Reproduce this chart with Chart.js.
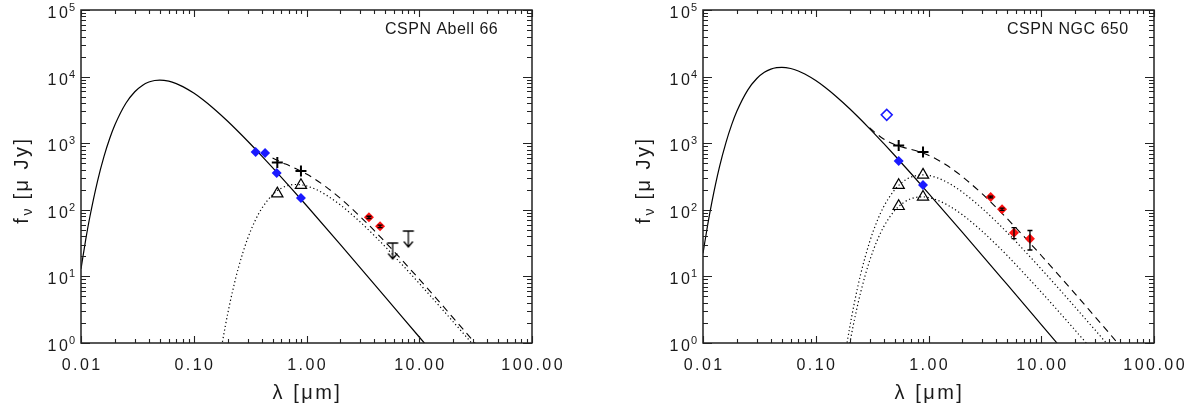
<!DOCTYPE html>
<html><head><meta charset="utf-8">
<script src="https://cdn.jsdelivr.net/npm/chart.js@4/dist/chart.umd.min.js"></script>
<style>
html,body{margin:0;padding:0;background:#fff;overflow:hidden;width:1199px;height:408px}
#wrap{position:relative;width:1199px;height:408px}
canvas{position:absolute;top:0}
#c1{left:0}
#c2{left:600px}
</style></head><body>
<div id="wrap"><canvas id="c1" width="600" height="408"></canvas><canvas id="c2" width="599" height="408"></canvas></div>
<script>
// ---------- axis ticks ----------
const X_TICK_VALUES = [0.01, 0.1, 1, 10, 100];
const X_TICK_LABELS = ['0.01', '0.10', '1.00', '10.00', '100.00'];
const Y_TICK_EXPONENTS = [0, 1, 2, 3, 4, 5];

// ---------- CSPN Abell 66 ----------
const A66_STAR_LAM  = [0.01, 0.011, 0.012, 0.014, 0.016, 0.018, 0.02, 0.025, 0.03, 0.035, 0.04, 0.045, 0.05, 0.06, 0.07, 0.08, 0.1, 0.12, 0.15, 0.2, 0.3, 0.4, 0.5, 0.7, 1, 2, 5, 10, 12];
const A66_STAR_FLUX = [13.0, 35.3, 79.3, 268, 633, 1184, 1890, 3980, 5930, 7377, 8282, 8731, 8860, 8530, 7846, 7075, 5648, 4521, 3323, 2136, 1080, 647, 430, 229, 116, 30.0, 4.90, 1.23, 0.857];
const A66_COOL_LAM  = [0.175, 0.18, 0.19, 0.2, 0.22, 0.25, 0.3, 0.35, 0.4, 0.5, 0.6, 0.7, 0.8, 0.9, 1.0, 1.2, 1.5, 2, 3, 4, 5, 7, 10, 15, 20, 25, 30];
const A66_COOL_FLUX = [0.80, 1.055, 1.75, 2.74, 5.82, 13.8, 36.7, 68.6, 104, 168.5, 211.5, 233.5, 240, 237, 228, 204, 166, 118, 65.4, 40.9, 27.8, 15.2, 7.85, 3.63, 2.08, 1.35, 0.944];
const A66_SUM_LAM   = [0.5, 0.6, 0.7, 0.8, 0.9, 1.0, 1.2, 1.5, 2, 3, 4, 5, 7, 10, 15, 20, 25, 30, 32];
const A66_SUM_FLUX  = [598, 517, 462, 417, 378, 344, 285, 219, 148, 78.9, 48.5, 32.7, 17.7, 9.08, 4.18, 2.39, 1.55, 1.08, 0.95];
const A66_BLUE_LAM  = [0.354, 0.429, 0.544, 0.893];
const A66_BLUE_FLUX = [740, 714, 357, 150];
const A66_PLUS_LAM  = [0.551, 0.893];
const A66_PLUS_FLUX = [513, 383];
const A66_TRI_LAM   = [0.551, 0.893];
const A66_TRI_FLUX  = [175, 234];
const A66_RED_LAM   = [3.58, 4.49];
const A66_RED_FLUX  = [77, 56.5];
const A66_RED_ERR   = [3, 2.5];
const A66_UL_LAM    = [5.81, 8.0];
const A66_UL_FLUX   = [31.7, 48];

// ---------- CSPN NGC 650 ----------
const N650_STAR_LAM  = [0.01, 0.011, 0.012, 0.014, 0.016, 0.018, 0.02, 0.025, 0.03, 0.035, 0.04, 0.045, 0.05, 0.06, 0.07, 0.08, 0.1, 0.12, 0.15, 0.2, 0.3, 0.4, 0.5, 0.7, 1, 2, 5, 10, 15];
const N650_STAR_FLUX = [22.2, 59.4, 132, 441, 1031, 1915, 3039, 6328, 9365, 11591, 12961, 13627, 13798, 13244, 12156, 10943, 8719, 6972, 5115, 3285, 1659, 993, 660, 351, 177, 45.9, 7.5, 1.89, 0.843];
const N650_COOL1_LAM  = [0.185, 0.19, 0.2, 0.22, 0.25, 0.3, 0.35, 0.4, 0.5, 0.6, 0.7, 0.8, 0.9, 1.0, 1.2, 1.5, 2, 3, 4, 5, 7, 10, 15, 20, 25, 30, 40];
const N650_COOL1_FLUX = [0.784, 1.03, 1.71, 4.0, 10.7, 32.7, 67.7, 111, 199, 268, 310, 330, 334, 328, 302, 253, 184, 104.5, 66.1, 45.3, 24.9, 12.9, 6.0, 3.45, 2.23, 1.57, 0.89];
const N650_COOL2_LAM  = [0.195, 0.2, 0.21, 0.22, 0.25, 0.3, 0.35, 0.4, 0.5, 0.6, 0.7, 0.8, 0.9, 1.0, 1.2, 1.5, 2, 3, 4, 5, 7, 10, 15, 20, 25, 30];
const N650_COOL2_FLUX = [0.762, 0.967, 1.50, 2.21, 5.74, 17.0, 34.4, 55.4, 97, 128, 147, 155, 156, 153, 139.5, 116, 84, 47.4, 29.9, 20.5, 11.2, 5.82, 2.70, 1.55, 1.005, 0.704];
const N650_SUM_LAM   = [0.3, 0.35, 0.4, 0.5, 0.6, 0.7, 0.8, 0.9, 1.0, 1.2, 1.5, 2, 3, 4, 5, 7, 10, 15, 20, 25, 30, 40, 50];
const N650_SUM_FLUX  = [1709, 1365, 1160, 956, 865, 807, 757, 707, 658, 566, 450, 314, 173, 108, 73.3, 40.0, 20.6, 9.54, 5.47, 3.54, 2.48, 1.41, 0.907];
const N650_BLUE_LAM  = [0.544, 0.894];
const N650_BLUE_FLUX = [542, 236];
const N650_OPEN_LAM  = [0.426];
const N650_OPEN_FLUX = [2665];
const N650_PLUS_LAM  = [0.544, 0.894];
const N650_PLUS_FLUX = [923, 740];
const N650_TRI_LAM   = [0.544, 0.544, 0.894, 0.894];
const N650_TRI_FLUX  = [234, 113, 334, 156];
const N650_RED_LAM   = [3.56, 4.49, 5.73, 7.94];
const N650_RED_FLUX  = [156, 102, 45.4, 36.9];
const N650_RED_ERR   = [5, 4, 8.5, 12];

// ---------- helpers ----------
const FONT = "'Liberation Sans', Arial, sans-serif";
const BLUE = '#1a1aff', RED = '#ff1010', INK = '#1a1a1a';
const pts = (xs, ys) => xs.map((v, i) => ({x: v, y: ys[i]}));

function curve(xs, ys, dash, width) {
  return {data: pts(xs, ys), showLine: true, pointRadius: 0, borderColor: '#000',
    borderWidth: width || 1.1, borderDash: dash || [], cubicInterpolationMode: 'monotone', order: 2};
}
function markers(xs, ys, style, radius, fill, stroke, bw, extra) {
  return Object.assign({data: pts(xs, ys), showLine: false, pointStyle: style, pointRadius: radius,
    backgroundColor: fill, borderColor: stroke, borderWidth: bw, order: 1}, extra || {});
}
function upperLimitSymbol() {
  const c = document.createElement('canvas');
  c.width = 14; c.height = 38;
  const g = c.getContext('2d');
  g.strokeStyle = '#000'; g.lineWidth = 1.3;
  g.beginPath();
  g.moveTo(1.5, 19); g.lineTo(12.5, 19);
  g.moveTo(7, 19); g.lineTo(7, 35);
  g.moveTo(2.5, 29.5); g.lineTo(7, 35); g.lineTo(11.5, 29.5);
  g.stroke();
  return c;
}

const framePlugin = {
  id: 'frame',
  afterDatasetsDraw(chart) {
    const {ctx, scales: {x, y}} = chart;
    ctx.save();
    ctx.strokeStyle = '#000'; ctx.lineWidth = 1.3;
    chart.data.datasets.forEach(ds => {
      if (!ds.errors) return;
      ds.data.forEach((p, i) => {
        const e = ds.errors[i];
        const px = x.getPixelForValue(p.x);
        const t = y.getPixelForValue(p.y + e), b = y.getPixelForValue(p.y - e);
        ctx.beginPath();
        ctx.moveTo(px, t); ctx.lineTo(px, b);
        ctx.moveTo(px - 2.5, t); ctx.lineTo(px + 2.5, t);
        ctx.moveTo(px - 2.5, b); ctx.lineTo(px + 2.5, b);
        ctx.stroke();
      });
    });
    ctx.restore();
  },
  afterDraw(chart, args, opts) {
    const {ctx, chartArea: a, scales: {x, y}} = chart;
    ctx.save();
    ctx.strokeStyle = '#222'; ctx.lineWidth = 1.5;
    ctx.strokeRect(a.left, a.top, a.right - a.left, a.bottom - a.top);
    ctx.lineWidth = 1.1;
    ctx.beginPath();
    for (let e = -2; e <= 2; e++) {
      for (let k = 1; k <= 9; k++) {
        const v = k * Math.pow(10, e);
        if (v > 100.0001) continue;
        const px = Math.round(x.getPixelForValue(v)) + 0.5;
        const len = k === 1 ? 7 : 4;
        ctx.moveTo(px, a.bottom); ctx.lineTo(px, a.bottom - len);
        ctx.moveTo(px, a.top); ctx.lineTo(px, a.top + len);
      }
    }
    for (let e = 0; e <= 5; e++) {
      for (let k = 1; k <= 9; k++) {
        const v = k * Math.pow(10, e);
        if (v > 100000.1) continue;
        const py = Math.round(y.getPixelForValue(v)) + 0.5;
        const len = k === 1 ? 9 : 5;
        ctx.moveTo(a.left, py); ctx.lineTo(a.left + len, py);
        ctx.moveTo(a.right, py); ctx.lineTo(a.right - len, py);
      }
    }
    ctx.stroke();

    ctx.fillStyle = INK;
    // x tick labels
    ctx.font = `16px ${FONT}`; ctx.letterSpacing = '2.5px';
    ctx.textAlign = 'center'; ctx.textBaseline = 'middle';
    X_TICK_VALUES.forEach((v, i) => ctx.fillText(X_TICK_LABELS[i], x.getPixelForValue(v) + 1.2, a.bottom + 23));
    // y tick labels: 10^n
    ctx.textAlign = 'left'; ctx.textBaseline = 'alphabetic';
    Y_TICK_EXPONENTS.forEach(n => {
      const py = y.getPixelForValue(Math.pow(10, n));
      ctx.font = `11px ${FONT}`; ctx.letterSpacing = '0px';
      const sw = ctx.measureText(String(n)).width;
      const ex = a.left - 6 - sw;
      ctx.fillText(String(n), ex, py + 1);
      ctx.font = `16px ${FONT}`; ctx.letterSpacing = '2.5px';
      const mw = ctx.measureText('10').width;
      ctx.fillText('10', ex - mw + 1.5, py + 8);
    });
    // x title
    ctx.font = `20px ${FONT}`; ctx.letterSpacing = '2.5px';
    ctx.textAlign = 'center'; ctx.textBaseline = 'middle';
    ctx.fillText('λ [μm]', (a.left + a.right) / 2 + 1, a.bottom + 50);
    // y title (rotated)
    ctx.save();
    ctx.translate(a.left - 53, 180);
    ctx.rotate(-Math.PI / 2);
    ctx.textAlign = 'left'; ctx.textBaseline = 'alphabetic';
    ctx.font = `20px ${FONT}`; ctx.letterSpacing = '2.5px';
    const wf = ctx.measureText('f').width;
    const wr = ctx.measureText(' [μ Jy]').width;
    ctx.font = `14px ${FONT}`; ctx.letterSpacing = '1px';
    const wn = ctx.measureText('ν').width;
    let cx = -(wf + wn + wr) / 2;
    ctx.font = `20px ${FONT}`; ctx.letterSpacing = '2.5px';
    ctx.fillText('f', cx, 0); cx += wf;
    ctx.font = `14px ${FONT}`; ctx.letterSpacing = '1px';
    ctx.fillText('ν', cx, 4); cx += wn;
    ctx.font = `20px ${FONT}`; ctx.letterSpacing = '2.5px';
    ctx.fillText(' [μ Jy]', cx, 0);
    ctx.restore();
    // panel title
    ctx.font = `16px ${FONT}`; ctx.letterSpacing = '0.5px';
    ctx.textAlign = 'left'; ctx.textBaseline = 'alphabetic';
    ctx.fillText(opts.title, a.right - 147, a.top + 24);
    ctx.restore();
  }
};

function makeChart(id, padLeft, padRight, title, datasets) {
  return new Chart(document.getElementById(id), {
    type: 'scatter',
    data: {datasets},
    options: {
      responsive: false, animation: false, events: [],
      layout: {padding: {left: padLeft, right: padRight, top: 10, bottom: 65}},
      scales: {
        x: {type: 'logarithmic', min: 0.01, max: 100, display: false},
        y: {type: 'logarithmic', min: 1, max: 100000, display: false}
      },
      plugins: {legend: {display: false}, tooltip: {enabled: false}, frame: {title}}
    },
    plugins: [framePlugin]
  });
}

const UL = upperLimitSymbol();
const NONE = 'rgba(0,0,0,0)';

makeChart('c1', 81, 68, 'CSPN Abell 66', [
  markers(A66_BLUE_LAM, A66_BLUE_FLUX, 'rectRot', 5, BLUE, BLUE, 0),
  markers(A66_PLUS_LAM, A66_PLUS_FLUX, 'cross', 5.5, NONE, '#000', 2),
  markers(A66_TRI_LAM, A66_TRI_FLUX, 'triangle', 6.5, NONE, '#000', 1.2),
  markers(A66_RED_LAM, A66_RED_FLUX, 'rectRot', 5, RED, RED, 0, {errors: A66_RED_ERR}),
  markers(A66_UL_LAM, A66_UL_FLUX, UL, 7, NONE, '#000', 0),
  curve(A66_STAR_LAM, A66_STAR_FLUX, [], 1.2),
  curve(A66_COOL_LAM, A66_COOL_FLUX, [1.2, 2.6], 1.2),
  curve(A66_SUM_LAM, A66_SUM_FLUX, [7, 5], 1.1)
]);

makeChart('c2', 103, 45, 'CSPN NGC 650', [
  markers(N650_BLUE_LAM, N650_BLUE_FLUX, 'rectRot', 5, BLUE, BLUE, 0),
  markers(N650_OPEN_LAM, N650_OPEN_FLUX, 'rectRot', 5.5, NONE, BLUE, 1.5),
  markers(N650_PLUS_LAM, N650_PLUS_FLUX, 'cross', 5.5, NONE, '#000', 2),
  markers(N650_TRI_LAM, N650_TRI_FLUX, 'triangle', 6.5, NONE, '#000', 1.2),
  markers(N650_RED_LAM, N650_RED_FLUX, 'rectRot', 5, RED, RED, 0, {errors: N650_RED_ERR}),
  curve(N650_STAR_LAM, N650_STAR_FLUX, [], 1.2),
  curve(N650_COOL1_LAM, N650_COOL1_FLUX, [1.2, 2.6], 1.2),
  curve(N650_COOL2_LAM, N650_COOL2_FLUX, [1.2, 2.6], 1.2),
  curve(N650_SUM_LAM, N650_SUM_FLUX, [7, 5], 1.1)
]);
</script>
</body></html>
